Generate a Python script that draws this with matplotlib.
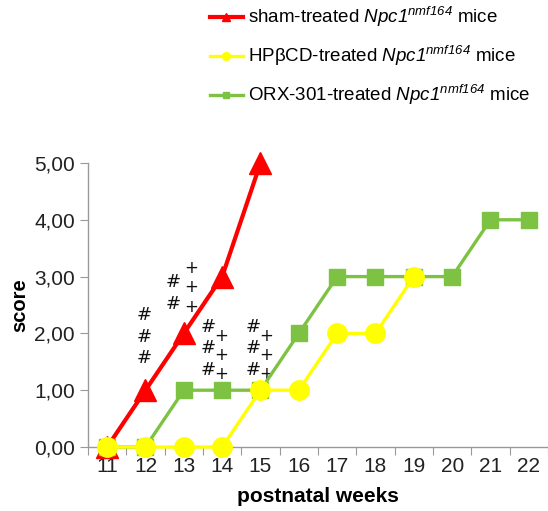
import numpy as np
import matplotlib.pyplot as plt

plt.rcParams['font.family'] = ['Liberation Sans', 'DejaVu Sans']
plt.rcParams['mathtext.fontset'] = 'custom'
# the only math text is the italic gene name, so make "rm" italic
plt.rcParams['mathtext.rm'] = 'Liberation Sans:italic'
plt.rcParams['mathtext.it'] = 'Liberation Sans:italic'

weeks = list(range(11, 23))
sham_weeks = [11, 12, 13, 14, 15]
sham_score = [0, 1, 2, 3, 5]
hpbcd_weeks = [11, 12, 13, 14, 15, 16, 17, 18, 19]
hpbcd_score = [0, 0, 0, 0, 1, 1, 2, 2, 3]
orx_weeks = [11, 12, 13, 14, 15, 16, 17, 18, 19, 20, 21, 22]
orx_score = [0, 0, 1, 1, 1, 2, 3, 3, 3, 3, 4, 4]
y_ticks = [0, 1, 2, 3, 4, 5]
y_labels = ['0,00', '1,00', '2,00', '3,00', '4,00', '5,00']

# significance marks: (x, y, text)
marks = [
    (11.96, 1.94, '#\n#\n#'),
    (12.71, 2.71, '#\n#'),
    (13.20, 2.81, '+\n+\n+'),
    (13.64, 1.74, '#\n#\n#'),
    (13.98, 1.62, '+\n+\n+'),
    (14.80, 1.74, '#\n#\n#'),
    (15.14, 1.62, '+\n+\n+'),
]

red = '#FF0000'
yellow = '#FFFF00'
green = '#7DC242'

fig = plt.figure(figsize=(5.48, 5.11), dpi=100)
ax = fig.add_axes([88 / 548, 1 - 447 / 511, 460 / 548, (447 - 163) / 511])

l1, = ax.plot(sham_weeks, sham_score, color=red, lw=3, marker='^', ms=16,
              clip_on=False, zorder=3)
l3, = ax.plot(orx_weeks, orx_score, color=green, lw=2.4, marker='s', ms=12,
              clip_on=False, zorder=4)
l2, = ax.plot(hpbcd_weeks, hpbcd_score, color=yellow, lw=2.4, marker='o', ms=14,
              clip_on=False, zorder=5)

for x, y, t in marks:
    if t.startswith('#'):
        ax.text(x, y, t, ha='center', va='center', fontsize=13, linespacing=1.25,
                color='#111111', family='DejaVu Sans')
    else:
        ax.text(x, y, t, ha='center', va='center', fontsize=12, linespacing=1.1,
                color='#111111', family='DejaVu Sans')

ax.set_xlim(10.5, 22.4)
ax.set_ylim(0, 5)
ax.set_xticks(np.arange(10.5, 23, 1))
ax.set_xticklabels([])
ax.set_xticks(weeks, minor=True)
ax.set_xticklabels([str(w) for w in weeks], minor=True)
ax.tick_params(axis='x', which='minor', length=0, labelsize=15, pad=7,
               labelcolor='#222222')
ax.tick_params(axis='x', which='major', length=6, color='#999999')
ax.set_yticks(y_ticks)
ax.set_yticklabels(y_labels)
ax.tick_params(axis='y', length=6, color='#999999', labelsize=15,
               labelcolor='#222222')

for s in ['top', 'right']:
    ax.spines[s].set_visible(False)
for s in ['left', 'bottom']:
    ax.spines[s].set_color('#999999')
    ax.spines[s].set_linewidth(1)

ax.set_ylabel('score', fontsize=14.5, fontweight='bold', labelpad=3)
ax.set_xlabel('postnatal weeks', fontsize=15, fontweight='bold', labelpad=8)

labels = [r'sham-treated $\mathrm{Npc1}^{\mathrm{nmf164}}$ mice',
          r'HPβCD-treated $\mathrm{Npc1}^{\mathrm{nmf164}}$ mice',
          r'ORX-301-treated $\mathrm{Npc1}^{\mathrm{nmf164}}$ mice']
leg = fig.legend([l1, l2, l3], labels, loc='upper left',
                 bbox_to_anchor=(0.383, 0.99), frameon=False, fontsize=13.5,
                 handlelength=1.75, markerscale=0.4, labelspacing=0.8,
                 handletextpad=0.3, borderpad=0, borderaxespad=0)

fig.savefig('out.png', dpi=100)
